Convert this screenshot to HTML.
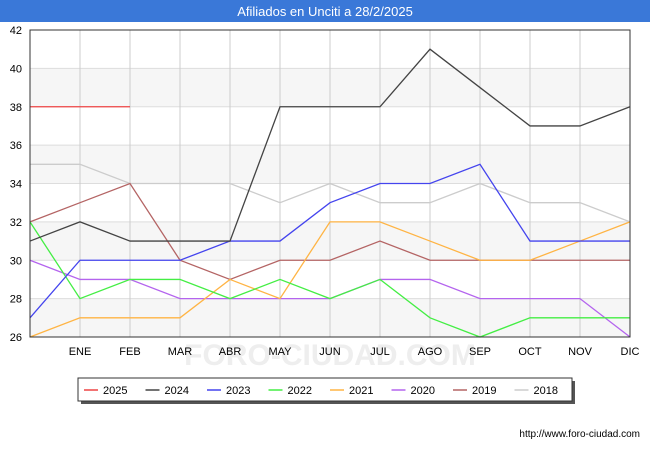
<!DOCTYPE html>
<html><head><meta charset="utf-8"><style>
body{margin:0;width:650px;height:450px;background:#fff;font-family:"Liberation Sans",sans-serif;overflow:hidden}
</style></head><body>
<svg width="650" height="450" xmlns="http://www.w3.org/2000/svg">
<rect x="0" y="0" width="650" height="22" fill="#3a78d8"/>
<text x="325" y="16" text-anchor="middle" fill="#fff" font-size="13">Afiliados en Unciti a 28/2/2025</text>
<g id="bands"></g><g id="grid"></g>
<text x="330" y="365" text-anchor="middle" font-size="30" fill="#eee" font-weight="bold">FORO-CIUDAD.COM</text>
<g id="series"></g><g id="axes"></g>
<g id="legend"></g>
<text x="640" y="437" text-anchor="end" font-size="10" fill="#000">http://www.foro-ciudad.com</text>
</svg>
<script>
const categories=["","ENE","FEB","MAR","ABR","MAY","JUN","JUL","AGO","SEP","OCT","NOV","DIC"];
const yTicks=[26,28,30,32,34,36,38,40,42];
const seriesNames=["2025","2024","2023","2022","2021","2020","2019","2018"];
const seriesColors=["#ee4444","#444444","#4444ee","#44ee44","#ffb444","#b464ee","#b46464","#cccccc"];
const s2025=[38,38,38];
const s2024=[31,32,31,31,31,38,38,38,41,39,37,37,38];
const s2023=[27,30,30,30,31,31,33,34,34,35,31,31,31];
const s2022=[32,28,29,29,28,29,28,29,27,26,27,27,27];
const s2021=[26,27,27,27,29,28,32,32,31,30,30,31,32];
const s2020=[30,29,29,28,28,28,28,29,29,28,28,28,26];
const s2019=[32,33,34,30,29,30,30,31,30,30,30,30,30];
const s2018=[35,35,34,34,34,33,34,33,33,34,33,33,32];
const allSeries=[s2018,s2019,s2020,s2021,s2022,s2023,s2024,s2025];
const order=[7,6,5,4,3,2,1,0];
const X0=30,X1=630,Y0=337,Y1=30,YMIN=26,YMAX=42;
const xs=i=>X0+i*(X1-X0)/(categories.length-1);
const ys=v=>Y0-(v-YMIN)*(Y0-Y1)/(YMAX-YMIN);
const NS="http://www.w3.org/2000/svg";
function mk(t,a,p){const e=document.createElementNS(NS,t);for(const k in a)e.setAttribute(k,a[k]);p.appendChild(e);return e;}
const bands=document.getElementById('bands'),grid=document.getElementById('grid'),axes=document.getElementById('axes'),ser=document.getElementById('series'),leg=document.getElementById('legend');
for(let i=0;i<yTicks.length-1;i+=2){const r=mk('rect',{x:X0,y:ys(yTicks[i+1]),width:X1-X0,height:ys(yTicks[i])-ys(yTicks[i+1]),fill:'#f6f6f6'},bands);

}
yTicks.forEach(v=>{const l=mk('line',{x1:X0,x2:X1,y1:ys(v),y2:ys(v),stroke:'#ddd'},grid);


const t=mk('text',{x:22,y:ys(v)+4,'text-anchor':'end','font-size':11,fill:'#000'},axes);t.textContent=v;

});
categories.forEach((c,i)=>{const l=mk('line',{x1:xs(i),x2:xs(i),y1:Y1,y2:Y0,stroke:'#ccc'},grid);


if(c){const t=mk('text',{x:xs(i),y:355,'text-anchor':'middle','font-size':11,fill:'#000'},axes);t.textContent=c;

}});
const fr=mk('rect',{x:X0,y:Y1,width:X1-X0,height:Y0-Y1,fill:'none',stroke:'#333'},axes);


const byName={"2025":s2025,"2024":s2024,"2023":s2023,"2022":s2022,"2021":s2021,"2020":s2020,"2019":s2019,"2018":s2018};
for(let k=seriesNames.length-1;k>=0;k--){const d=byName[seriesNames[k]];
const p=mk('polyline',{points:d.map((v,i)=>xs(i)+','+ys(v)).join(' '),fill:'none',stroke:seriesColors[k],'stroke-width':1.3},ser);

}
const sh=mk('rect',{x:81,y:381,width:494,height:23,fill:'#555'},leg);


const lb=mk('rect',{x:78,y:378,width:494,height:23,fill:'#fff',stroke:'#333'},leg);


seriesNames.forEach((n,k)=>{const x=84+k*61.5;
const l=mk('line',{x1:x,x2:x+14,y1:390,y2:390,stroke:seriesColors[k],'stroke-width':1.5},leg);


const t=mk('text',{x:x+19,y:394,'font-size':11,fill:'#000'},leg);t.textContent=n;

});
</script>
</body></html>
